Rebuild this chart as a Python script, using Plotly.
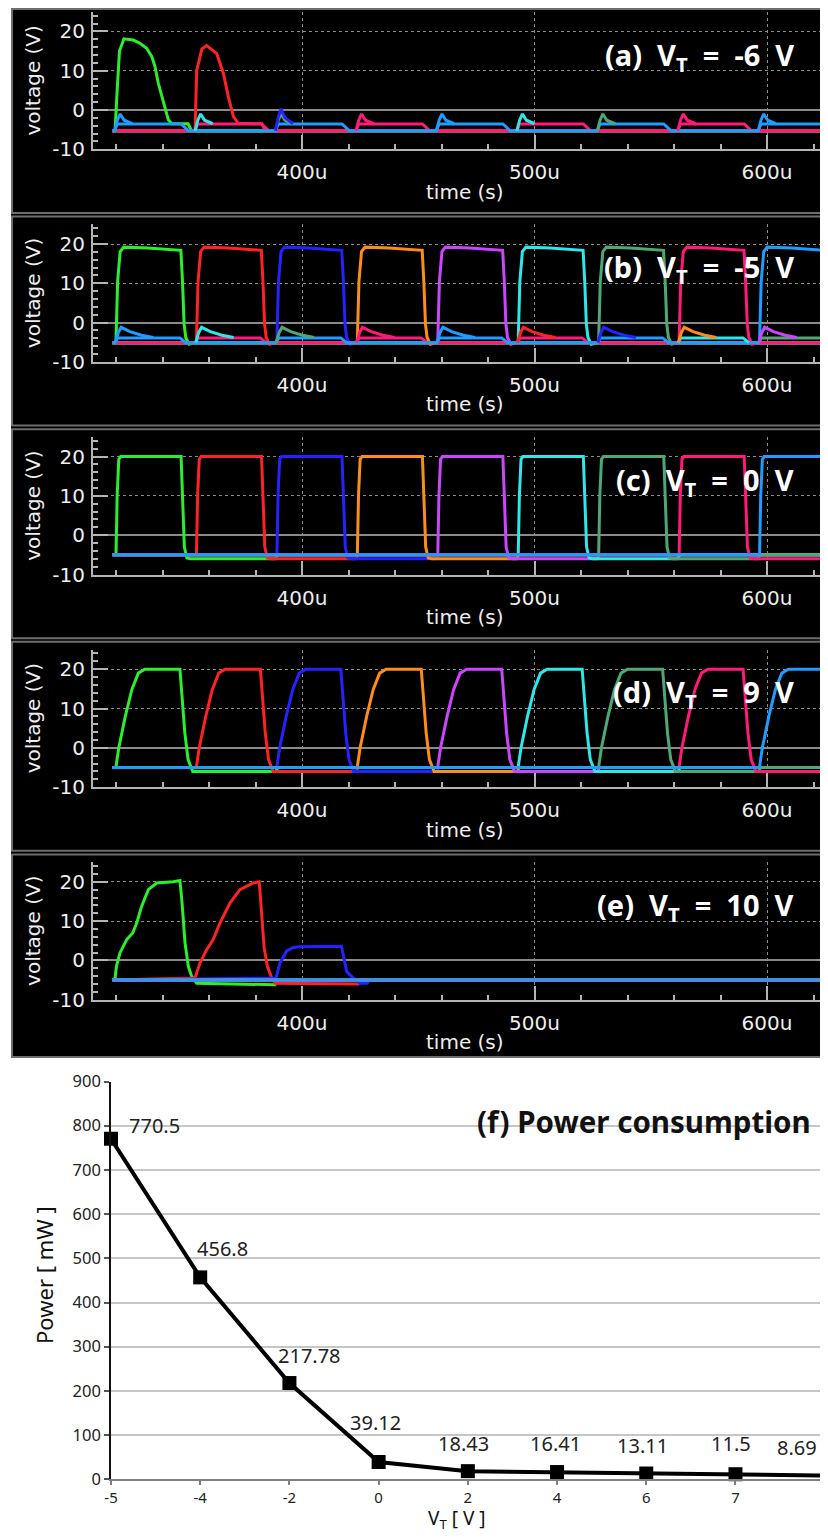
import plotly.graph_objects as go

PAGE_W, PAGE_H = 828, 1538
PAGE_OFFSET = 8  # the browser's default body margin shifts the figure by this many pixels
W, H = PAGE_W - 2 * PAGE_OFFSET, PAGE_H - 2 * PAGE_OFFSET  # figure fits the window without scrolling

# ---------------- scope panels: data ----------------
SLOT_T = [320.0, 354.6, 389.2, 423.8, 458.4, 493.0, 527.6, 562.2, 596.8]  # stage start times (us)
STAGE_COLORS = ["#2bef2b", "#ff2222", "#2323ff", "#ff8c1a", "#cc44ff",
                "#2ee8e8", "#4fa874", "#ff1a7a", "#1e9cff"]
T_FIRST, T_LAST = 318.5, 632.0
SP = "\u00a0\u00a0"
PANEL_TITLES = ["(a)" + SP + "V<sub>T</sub>" + SP + "=" + SP + "-6" + SP + "V",
                "(b)" + SP + "V<sub>T</sub>" + SP + "=" + SP + "-5" + SP + "V",
                "(c)" + SP + "V<sub>T</sub>" + SP + "=" + SP + "0" + SP + "V",
                "(d)" + SP + "V<sub>T</sub>" + SP + "=" + SP + "9" + SP + "V",
                "(e)" + SP + "V<sub>T</sub>" + SP + "=" + SP + "10" + SP + "V"]

# (a) VT = -6 V
A_GREEN_T = [318.5, 319.6, 320.5, 321.5, 323.4, 327.4, 330.3, 333.2, 335.4, 336.8, 338.2,
             339.7, 341.1, 342.5, 344.0, 351.0, 352.5, 632.0]
A_GREEN_V = [-5.3, -5.3, 5.0, 15.0, 18.1, 17.8, 17.0, 15.7, 13.6, 11.0, 6.8,
             3.4, 0.0, -2.5, -3.5, -3.5, -5.3, -5.3]
A_RED_T = [318.5, 354.0, 354.7, 355.4, 356.9, 359.0, 363.3, 366.2, 368.3, 370.5, 372.6,
           382.8, 384.0, 632.0]
A_RED_V = [-5.3, -5.3, 10.0, 12.0, 15.5, 16.4, 14.4, 9.3, 3.4, -1.7, -3.4,
           -3.5, -5.3, -5.3]
A_LOW, A_UP = -5.3, -3.55
A_LEVEL_DT = [-0.6, 0.6, 28.0, 31.2]
A_BUMP_DT = [-0.6, 0.6, 1.8, 3.5, 7.0]
A_BUMP_V = [-5.3, -2.6, -1.0, -2.6, -3.5]
A_BIG_BUMP_V = [-5.3, -1.8, 0.3, -2.0, -3.5]
A_BUMP_STAGE = [8, 5, 6, 7, 8, 5, 6, 7, 8]
A_BIG_BUMP_SLOT, A_BIG_BUMP_STAGE = 2, 2

# (b) VT = -5 V
B_LOW, B_UP = -5.1, -3.9
B_PULSE_DT = [-0.4, 0.0, 0.7, 1.8, 3.3, 13.6, 26.5, 27.9, 28.6, 29.3, 30.0, 31.4, 34.0]
B_PULSE_V = [-5.1, -4.5, 10.5, 18.1, 19.2, 19.0, 18.6, 18.4, 10.5, -0.4, -3.8, -5.5, -5.1]
B_LEVEL_DT = [-0.5, 0.8, 27.5, 30.0]
B_BUMP_DT = [-0.3, 1.0, 2.2, 6.0, 11.0, 16.0]
B_BUMP_V = [-5.1, -2.5, -1.2, -2.3, -3.2, -3.8]
B_BUMP_STAGE = [8, 5, 6, 7, 8, 1, 2, 3, 4]
B_FILL_SLOT = [7, 8]
B_FILL_STAGE = [5, 6]

# (c) VT = 0 V
C_LOW = -5.0
C_PULSE_DT = [-0.3, 0.0, 0.5, 1.2, 2.0, 28.0, 28.6, 29.4, 30.5, 32.0, 68.5, 69.5]
C_PULSE_V = [-5.0, -5.0, 10.0, 19.3, 20.0, 20.0, 10.0, -3.0, -5.8, -6.0, -6.0, -5.0]

# (d) VT = 9 V
D_LOW = -5.0
D_PULSE_DT = [-0.3, 0.0, 1.2, 4.0, 6.8, 9.6, 12.4, 27.5, 28.2, 29.6, 31.0, 33.0, 68.8, 69.6]
D_PULSE_V = [-5.0, -4.8, 0.0, 8.0, 14.8, 19.0, 20.0, 20.0, 14.8, 3.8, -3.0, -6.0, -6.0, -5.0]

# (e) VT = 10 V
E_LOW = -5.0
E_GREEN_T = [318.5, 319.6, 320.2, 321.7, 324.6, 327.2, 328.9, 331.0, 333.9, 337.5, 344.6,
             347.5, 348.3, 349.7, 351.1, 352.5, 354.7, 388.4, 389.4, 632.0]
E_GREEN_V = [-5.0, -4.5, -1.5, 1.9, 5.3, 7.0, 9.5, 13.7, 18.0, 19.7, 20.0,
             20.3, 15.4, 4.4, -1.5, -4.0, -5.8, -6.2, -5.0, -5.0]
E_RED_T = [318.5, 354.0, 356.1, 359.0, 361.8, 364.7, 369.0, 373.3, 379.0, 381.6, 382.2,
           383.7, 385.1, 387.0, 388.4, 424.2, 425.2, 632.0]
E_RED_V = [-5.0, -4.5, -0.7, 2.7, 5.3, 9.5, 14.6, 18.0, 19.7, 20.0, 15.4,
           3.3, -1.5, -4.5, -5.8, -6.0, -5.0, -5.0]
E_BLUE_T = [318.5, 388.8, 390.5, 393.4, 396.3, 399.1, 417.0, 417.8, 419.2, 422.0, 425.0,
            428.0, 429.0, 632.0]
E_BLUE_V = [-5.0, -4.5, -0.7, 2.4, 3.3, 3.5, 3.6, 1.0, -2.8, -4.5, -5.8,
            -5.8, -5.0, -5.0]

# ---------------- panel (f) data ----------------
VT_LABELS = ["-5", "-4", "-2", "0", "2", "4", "6", "7", "9"]
POWER_MW = [770.5, 456.8, 217.78, 39.12, 18.43, 16.41, 13.11, 11.5, 8.69]

# ---------------- layout / style (page pixel positions) ----------------
ZERO_PX = [110.0, 322.6, 535.2, 747.8, 960.4]
PX_PER_V = 3.93
X400_PX, PX_PER_US = 302.0, 2.325
F_X0_PX, F_STEP_PX = 111.0, 89.21
LABEL_SHIFT_X = [43, 22, 20, -3, -4, -2, -4, -4, -28]
LABEL_SHIFT_Y = [13, 29, 28, 40, 28, 29, 28, 31, 28]
RIGHT_PX = W + PAGE_OFFSET  # page x of figure's right edge


def px_x(px):
    return (px - PAGE_OFFSET) / W


def px_y(py):
    return 1 - (py - PAGE_OFFSET) / H


def stage_wave(own_slot, pulse_dt, pulse_v, low, up=None, level_dt=None, upper_slots=()):
    t, v = [T_FIRST], [low]
    for j, s in enumerate(SLOT_T):
        if j == own_slot:
            t += [s + d for d in pulse_dt]
            v += list(pulse_v)
        elif j in upper_slots:
            t += [s + d for d in level_dt]
            v += [low, up, up, low]
    if t[-1] < T_LAST:
        t.append(T_LAST)
        v.append(low)
    return t, v


fig = go.Figure()


def axis_ids(i):
    n = "" if i == 0 else str(i + 1)
    return "x" + n, "y" + n


def add_line(i, t, v, color, width=3):
    xa, ya = axis_ids(i)
    fig.add_trace(go.Scatter(x=t, y=v, mode="lines", xaxis=xa, yaxis=ya,
                             line=dict(color=color, width=width), hoverinfo="skip",
                             showlegend=False))


# panel (a)
for k in range(2, 7):
    add_line(0, [T_FIRST, T_LAST], [A_LOW, A_LOW], STAGE_COLORS[k])
add_line(0, A_GREEN_T, A_GREEN_V, STAGE_COLORS[0])
add_line(0, A_RED_T, A_RED_V, STAGE_COLORS[1])
t, v = stage_wave(-1, [], [], A_LOW, A_UP, A_LEVEL_DT, [1, 3, 5, 7])
add_line(0, t, v, STAGE_COLORS[7])
t, v = stage_wave(-1, [], [], A_LOW, A_UP, A_LEVEL_DT, [0, 2, 4, 6, 8])
add_line(0, t, v, STAGE_COLORS[8])
for j, s in enumerate(SLOT_T):
    add_line(0, [s + d for d in A_BUMP_DT], A_BUMP_V, STAGE_COLORS[A_BUMP_STAGE[j]])
add_line(0, [SLOT_T[A_BIG_BUMP_SLOT] + d for d in A_BUMP_DT], A_BIG_BUMP_V,
         STAGE_COLORS[A_BIG_BUMP_STAGE])

# panel (b)
for k in range(7):
    t, v = stage_wave(k, B_PULSE_DT, B_PULSE_V, B_LOW)
    add_line(1, t, v, STAGE_COLORS[k])
t, v = stage_wave(7, B_PULSE_DT, B_PULSE_V, B_LOW, B_UP, B_LEVEL_DT, [1, 3, 5])
add_line(1, t, v, STAGE_COLORS[7])
t, v = stage_wave(8, B_PULSE_DT, B_PULSE_V, B_LOW, B_UP, B_LEVEL_DT, [0, 2, 4, 6])
add_line(1, t, v, STAGE_COLORS[8])
for j, k in zip(B_FILL_SLOT, B_FILL_STAGE):
    add_line(1, [SLOT_T[j] + d for d in B_LEVEL_DT], [B_LOW, B_UP, B_UP, B_LOW], STAGE_COLORS[k])
for j, s in enumerate(SLOT_T):
    add_line(1, [s + d for d in B_BUMP_DT], B_BUMP_V, STAGE_COLORS[B_BUMP_STAGE[j]])

# panel (c)
for k in range(9):
    t, v = stage_wave(k, C_PULSE_DT, C_PULSE_V, C_LOW)
    add_line(2, t, v, STAGE_COLORS[k])

# panel (d)
for k in range(9):
    t, v = stage_wave(k, D_PULSE_DT, D_PULSE_V, D_LOW)
    add_line(3, t, v, STAGE_COLORS[k])

# panel (e)
add_line(4, E_GREEN_T, E_GREEN_V, STAGE_COLORS[0])
add_line(4, E_RED_T, E_RED_V, STAGE_COLORS[1])
add_line(4, E_BLUE_T, E_BLUE_V, STAGE_COLORS[2])
for k in range(3, 9):
    add_line(4, [T_FIRST, T_LAST], [E_LOW, E_LOW], STAGE_COLORS[k])

# panel (f)
fig.add_trace(go.Scatter(x=VT_LABELS, y=POWER_MW, mode="lines+markers", xaxis="x6", yaxis="y6",
                         line=dict(color="#000000", width=4),
                         marker=dict(symbol="square", size=14, color="#000000"),
                         cliponaxis=False, hoverinfo="skip", showlegend=False))

# ---------------- axes ----------------
layout = dict(width=W, height=H, margin=dict(l=0, r=0, t=0, b=0, pad=0), autosize=False,
              paper_bgcolor="#ffffff", plot_bgcolor="rgba(0,0,0,0)", showlegend=False)

AX_COL = "#b4b4b4"
TICK_FONT = dict(family="DejaVu Sans", size=20, color="#eeeeee")
annotations = []
shapes = [dict(type="rect", xref="paper", yref="paper", x0=px_x(11), x1=1.0,
               y0=px_y(1058), y1=1.0, fillcolor="#000000", line=dict(width=0), layer="below")]

t_left = 400 + (93 - X400_PX) / PX_PER_US
t_right = 400 + (RIGHT_PX - X400_PX) / PX_PER_US

for i, z in enumerate(ZERO_PX):
    xa, ya = axis_ids(i)
    ybot = z + 10 * PX_PER_V
    ytop = z - 25 * PX_PER_V
    xkey = "xaxis" + ("" if i == 0 else str(i + 1))
    ykey = "yaxis" + ("" if i == 0 else str(i + 1))
    layout[xkey] = dict(domain=[px_x(93), 1.0], range=[t_left, t_right], anchor=ya, automargin=False,
                        showline=True, linecolor=AX_COL, linewidth=2,
                        ticks="inside", ticklen=14, tickwidth=2, tickcolor=AX_COL,
                        tickvals=[400, 500, 600], ticktext=["400u", "500u", "600u"],
                        tickfont=TICK_FONT, ticklabelstandoff=4,
                        showgrid=True, gridcolor="#8c8c8c", gridwidth=1.2, griddash="3px,3px",
                        zeroline=False,
                        minor=dict(ticks="inside", ticklen=5, tickwidth=1.5, tickcolor=AX_COL,
                                   dtick=20, tick0=0, showgrid=False))
    layout[ykey] = dict(domain=[px_y(ybot), px_y(ytop)], range=[-10, 25], anchor=xa, automargin=False,
                        showline=True, linecolor=AX_COL, linewidth=2,
                        ticks="inside", ticklen=15, tickwidth=2, tickcolor=AX_COL,
                        tickvals=[-10, 0, 10, 20], ticktext=["-10", "0", "10", "20"],
                        tickfont=TICK_FONT, ticklabelstandoff=2,
                        showgrid=True, gridcolor="#8c8c8c", gridwidth=1.2, griddash="3px,3px",
                        zeroline=True, zerolinecolor="#8a8a8a", zerolinewidth=1.5,
                        minor=dict(ticks="inside", ticklen=5, tickwidth=1.5, tickcolor=AX_COL,
                                   dtick=2, tick0=0, showgrid=False))
    top = max(z - 106, PAGE_OFFSET + 1)
    bot = min(z + 103, 1057)
    shapes.append(dict(type="rect", xref="paper", yref="paper", x0=px_x(12), x1=px_x(850),
                       y0=px_y(bot), y1=px_y(top), fillcolor="rgba(0,0,0,0)",
                       line=dict(color="#6e6e6e", width=2), layer="below"))
    annotations.append(dict(xref="paper", yref="paper", x=px_x(796), y=px_y(z - 54),
                            xanchor="right", yanchor="middle", showarrow=False,
                            text="<b>" + PANEL_TITLES[i] + "</b>",
                            font=dict(family="Noto Sans", size=29, color="#ffffff")))
    annotations.append(dict(xref="paper", yref="paper", x=px_x(33), y=px_y((ybot + ytop) / 2),
                            xanchor="center", yanchor="middle", showarrow=False, textangle=-90,
                            text="voltage (V)", font=TICK_FONT))
    annotations.append(dict(xref="paper", yref="paper", x=px_x(465), y=px_y(z + 81.7),
                            xanchor="center", yanchor="middle", showarrow=False,
                            text="time (s)", font=TICK_FONT))

F_FONT = "Noto Sans"
f_right = (RIGHT_PX - F_X0_PX) / F_STEP_PX
layout["xaxis6"] = dict(domain=[px_x(F_X0_PX), 1.0], type="category", range=[0, f_right], anchor="y6",
                        automargin=False, categoryorder="array", categoryarray=VT_LABELS,
                        showline=True, linecolor="#808080", linewidth=2,
                        ticks="outside", ticklen=4, tickwidth=1.5, tickcolor="#808080",
                        tickfont=dict(family=F_FONT, size=15, color="#222222"),
                        ticklabelstandoff=0, ticklabeloverflow="allow",
                        showgrid=False, zeroline=False)
layout["yaxis6"] = dict(domain=[px_y(1479.3), px_y(1081.5)], range=[0, 900], anchor="x6",
                        automargin=False,
                        showline=True, linecolor="#111111", linewidth=1.5,
                        ticks="outside", ticklen=5, tickwidth=1.5, tickcolor="#555555",
                        dtick=100, tickfont=dict(family=F_FONT, size=16.5, color="#222222"),
                        showgrid=True, gridcolor="#c6c6c6", gridwidth=1.5, zeroline=False)

# value labels: category index -> fraction of the x6 domain (the last category sits past the window edge)
for idx, (val, dx, dy) in enumerate(zip(POWER_MW, LABEL_SHIFT_X, LABEL_SHIFT_Y)):
    annotations.append(dict(xref="x6 domain", yref="y6", x=idx / f_right, y=val, xshift=dx, yshift=dy,
                            showarrow=False, text=str(val), xanchor="center", yanchor="middle",
                            font=dict(family=F_FONT, size=20, color="#222222")))
annotations.append(dict(xref="paper", yref="paper", x=px_x(813), y=px_y(1121.7),
                        xanchor="right", yanchor="middle", showarrow=False,
                        text="<b>(f) Power consumption</b>",
                        font=dict(family=F_FONT, size=29.5, color="#111111")))
annotations.append(dict(xref="paper", yref="paper", x=px_x(44), y=px_y(1275),
                        xanchor="center", yanchor="middle", showarrow=False, textangle=-90,
                        text="Power [ mW ]", font=dict(family=F_FONT, size=22, color="#111111")))
annotations.append(dict(xref="paper", yref="paper", x=px_x(457), y=px_y(1519),
                        xanchor="center", yanchor="middle", showarrow=False,
                        text="V<sub>T</sub> [ V ]", font=dict(family=F_FONT, size=19, color="#111111")))

layout["annotations"] = annotations
layout["shapes"] = shapes
fig.update_layout(**layout)
fig.write_html("out.html")
